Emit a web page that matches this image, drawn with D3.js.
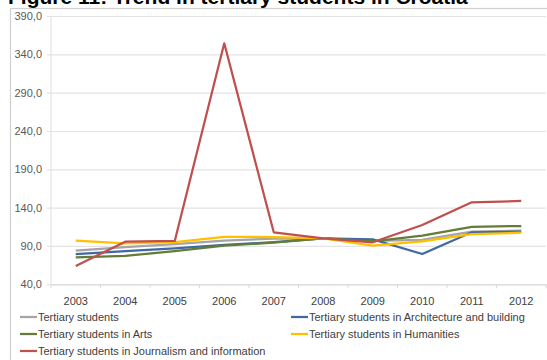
<!DOCTYPE html>
<html>
<head>
<meta charset="utf-8">
<script src="https://cdn.jsdelivr.net/npm/d3@7"></script>
<style>
  body { margin: 0; background: #fff; }
  text { font-family: 'Liberation Sans', Arial, sans-serif; }
</style>
</head>
<body>
<div id="chart"></div>
<script>
const years = ['2003', '2004', '2005', '2006', '2007', '2008', '2009', '2010', '2011', '2012'];
const yTicks = [40, 90, 140, 190, 240, 290, 340, 390];

const tertiary = [83.8, 88.6, 92.5, 97.0, 99.5, 100, 96.5, 98.0, 108.6, 110.0];
const architecture = [79.5, 83.4, 87.0, 91.3, 95.0, 100, 98.7, 79.5, 107.8, 108.6];
const arts = [75.2, 77.0, 83.4, 90.4, 94.5, 100, 96.0, 103.4, 115.0, 116.0];
const humanities = [96.9, 93.5, 95.0, 102.0, 101.7, 100, 90.4, 96.0, 105.6, 107.3];
const journalism = [63.9, 95.6, 96.5, 354.4, 107.8, 100, 94.8, 117.4, 147.0, 148.7];

const series = [
  { name: 'Tertiary students', values: tertiary, color: '#a5a5a5' },
  { name: 'Tertiary students in Architecture and building', values: architecture, color: '#3f69a3' },
  { name: 'Tertiary students in Arts', values: arts, color: '#627d36' },
  { name: 'Tertiary students in Humanities', values: humanities, color: '#ffc000' },
  { name: 'Tertiary students in Journalism and information', values: journalism, color: '#c0504d' },
];

const W = 547, H = 360;
const svg = d3.select('#chart').append('svg').attr('width', W).attr('height', H);

// title, cut at the top of the page as in the source
svg.append('text')
  .attr('x', 8).attr('y', 4)
  .attr('font-size', 21).attr('font-weight', 'bold').attr('fill', '#000')
  .text('Figure 11: Trend in tertiary students in Croatia');

// chart frame
svg.append('rect')
  .attr('x', 10.5).attr('y', 8.5).attr('width', 545).attr('height', 360)
  .attr('fill', 'none').attr('stroke', '#d0d0d0').attr('stroke-width', 1.2);

const plotLeft = 51, plotRight = 546, plotTop = 16, plotBottom = 284.3;
const x = d3.scaleBand().domain(years).range([plotLeft, plotRight]);
const y = d3.scaleLinear().domain([40, 390]).range([plotBottom, plotTop]);

// gridlines + y labels
const yAxis = svg.append('g').attr('transform', `translate(${plotLeft},0)`)
  .call(d3.axisLeft(y).tickValues(yTicks).tickSize(-(plotRight - plotLeft)).tickPadding(9)
    .tickFormat(d => d3.format('.1f')(d).replace('.', ',')));
yAxis.select('.domain').remove();
yAxis.selectAll('line').attr('stroke', '#e3e3e3').attr('stroke-width', 1.2).attr('x1', -4);
yAxis.selectAll('text').attr('font-size', 11).attr('fill', '#595959')
  .attr('font-family', "'Liberation Sans', Arial, sans-serif");

svg.append('line').attr('x1', plotLeft).attr('x2', plotLeft).attr('y1', plotTop).attr('y2', plotBottom)
  .attr('stroke', '#e3e3e3').attr('stroke-width', 1.2);

// x axis
const xAxis = svg.append('g').attr('transform', `translate(0,${plotBottom})`)
  .call(d3.axisBottom(x).tickSize(0).tickPadding(13));
xAxis.select('.domain').attr('stroke', '#d9d9d9');
xAxis.selectAll('text').attr('font-size', 11).attr('fill', '#404040')
  .attr('font-family', "'Liberation Sans', Arial, sans-serif");
svg.append('g').selectAll('line')
  .data(years.concat(['end']))
  .join('line')
  .attr('x1', (d, i) => plotLeft + i * x.step())
  .attr('x2', (d, i) => plotLeft + i * x.step())
  .attr('y1', plotBottom).attr('y2', plotBottom + 4)
  .attr('stroke', '#d9d9d9');

// lines
const line = d3.line()
  .x((d, i) => x(years[i]) + x.bandwidth() / 2)
  .y(d => y(d));

svg.append('g').selectAll('path')
  .data(series)
  .join('path')
  .attr('d', d => line(d.values))
  .attr('fill', 'none')
  .attr('stroke', d => d.color)
  .attr('stroke-width', 2.25)
  .attr('stroke-linejoin', 'round');

// legend
const legendPos = [[20, 317], [291, 317], [20, 334], [291, 334], [20, 351]];
const legend = svg.append('g').selectAll('g')
  .data(series)
  .join('g')
  .attr('transform', (d, i) => `translate(${legendPos[i][0]},${legendPos[i][1]})`);
legend.append('line')
  .attr('x1', 0).attr('x2', 17).attr('y1', 0).attr('y2', 0)
  .attr('stroke', d => d.color).attr('stroke-width', 2.25);
legend.append('text')
  .attr('x', 18).attr('y', 4)
  .attr('font-size', 11).attr('fill', '#404040')
  .text(d => d.name);
</script>
</body>
</html>
